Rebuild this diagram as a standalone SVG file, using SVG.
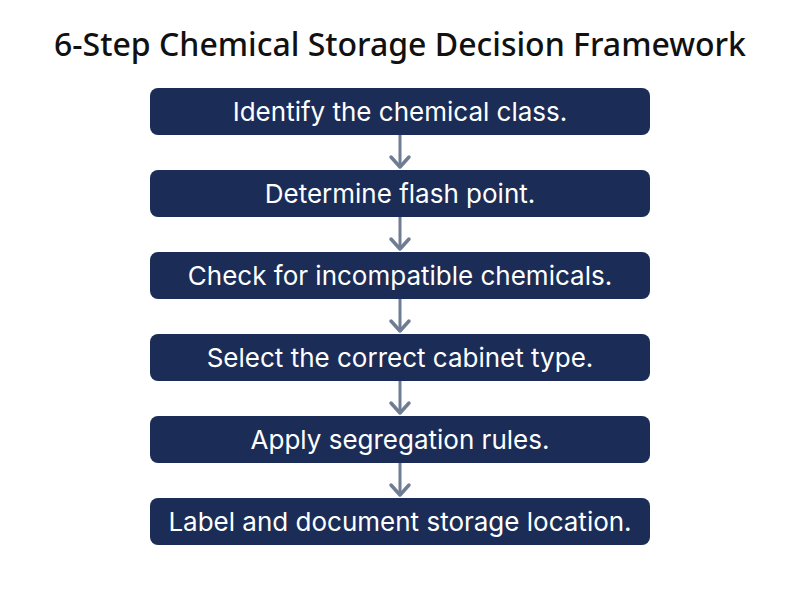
<svg xmlns="http://www.w3.org/2000/svg" width="800" height="600" viewBox="0 0 800 600">
<style>
.box{fill:#1b2d57;}
.lbl{font-family:Inter,"Open Sans",sans-serif;font-size:26px;fill:#ffffff;text-anchor:middle;}
.title{font-family:"Noto Sans","Open Sans",sans-serif;font-size:32px;font-weight:500;fill:#111111;text-anchor:middle;}
.conn{stroke:#6e7d93;stroke-width:3;fill:none;}
.head{stroke:#6e7d93;stroke-width:3.5;fill:none;stroke-linecap:round;stroke-linejoin:round;}
</style>
<rect width="800" height="600" fill="#ffffff"/>
<text class="title" x="400" y="56">6-Step Chemical Storage Decision Framework</text>
<g id="connectors">
<line class="conn" x1="400" y1="135" x2="400" y2="167"/><polyline class="head" points="391,157 400,167 409,157"/>
<line class="conn" x1="400" y1="217" x2="400" y2="249"/><polyline class="head" points="391,239 400,249 409,239"/>
<line class="conn" x1="400" y1="299" x2="400" y2="331"/><polyline class="head" points="391,321 400,331 409,321"/>
<line class="conn" x1="400" y1="381" x2="400" y2="413"/><polyline class="head" points="391,403 400,413 409,403"/>
<line class="conn" x1="400" y1="463" x2="400" y2="495"/><polyline class="head" points="391,485 400,495 409,485"/>
</g>
<g id="n1"><rect class="box" x="150" y="88" width="500" height="47" rx="8"/><text class="lbl" x="400" y="121">Identify the chemical class.</text></g>
<g id="n2"><rect class="box" x="150" y="170" width="500" height="47" rx="8"/><text class="lbl" x="400" y="203">Determine flash point.</text></g>
<g id="n3"><rect class="box" x="150" y="252" width="500" height="47" rx="8"/><text class="lbl" x="400" y="285">Check for incompatible chemicals.</text></g>
<g id="n4"><rect class="box" x="150" y="334" width="500" height="47" rx="8"/><text class="lbl" x="400" y="367">Select the correct cabinet type.</text></g>
<g id="n5"><rect class="box" x="150" y="416" width="500" height="47" rx="8"/><text class="lbl" x="400" y="449">Apply segregation rules.</text></g>
<g id="n6"><rect class="box" x="150" y="498" width="500" height="47" rx="8"/><text class="lbl" x="400" y="531">Label and document storage location.</text></g>
</svg>
